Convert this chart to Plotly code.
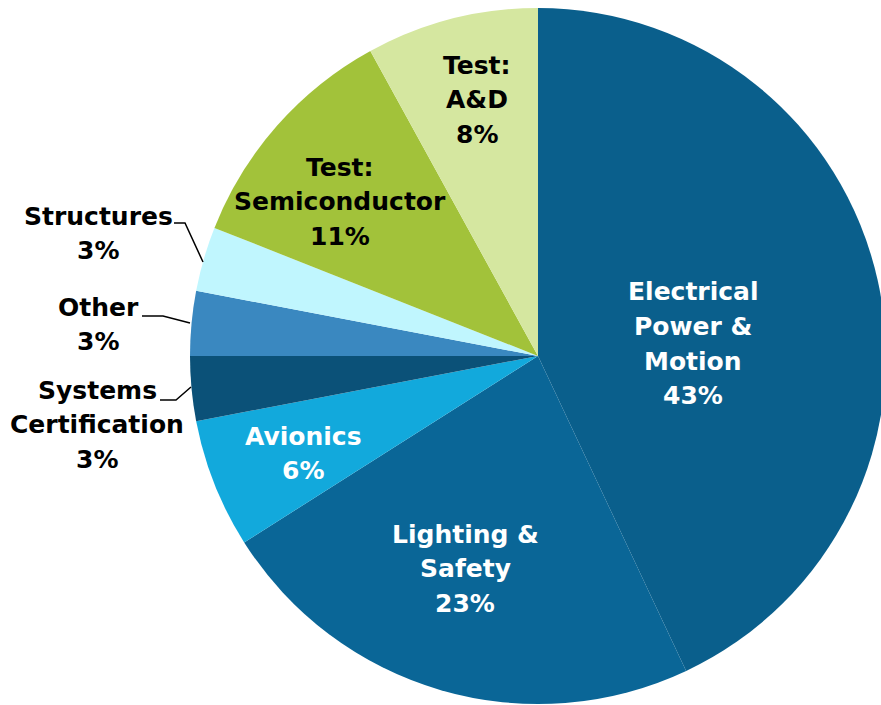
import plotly.graph_objects as go

# slices, clockwise from 12 o'clock
segment_names = [
    "Electrical Power & Motion",
    "Lighting & Safety",
    "Avionics",
    "Systems Certification",
    "Other",
    "Structures",
    "Test: Semiconductor",
    "Test: A&D",
]
segment_share = [43, 23, 6, 3, 3, 3, 11, 8]
segment_colors = [
    "#0a5f8c",
    "#0a6697",
    "#12a9dc",
    "#0b5178",
    "#3a88c0",
    "#c0f6fe",
    "#a2c23a",
    "#d5e7a0",
]
# label text lines per slice
label_lines = [
    ["Electrical", "Power &", "Motion"],
    ["Lighting &", "Safety"],
    ["Avionics"],
    ["Systems", "Certification"],
    ["Other"],
    ["Structures"],
    ["Test:", "Semiconductor"],
    ["Test:", "A&D"],
]
label_font_color = ["white", "white", "white", "black", "black", "black", "black", "black"]
# (x center, first line y) in page pixels
label_anchor = [
    (693, 292), (465, 534), (303, 436), (97, 390),
    (98, 307), (98, 216), (340, 167), (477, 65),
]
# leader lines for the small outside labels, page pixels
leader_lines = [
    [(160, 400), (176, 400), (191, 387)],
    [(142, 316), (163, 316), (190, 323)],
    [(174, 223), (185, 223), (203, 262)],
]

# the figure is a little wider than the 881px window so the pie can run off the right edge
W, H = 890, 705
LINE_STEP = 34.5


def px(x):
    return x / W


def py(y):
    return 1 - y / H


cx, cy, r = 538, 356, 348

fig = go.Figure(
    go.Pie(
        labels=segment_names,
        values=segment_share,
        sort=False,
        direction="clockwise",
        rotation=0,
        marker=dict(colors=segment_colors, line=dict(width=0)),
        textinfo="none",
        hoverinfo="label+percent",
        domain=dict(x=[px(cx - r), px(cx + r)], y=[py(cy + r), py(cy - r)]),
        showlegend=False,
    )
)

annotations = []
for lines, share, (ax, ay), fc in zip(label_lines, segment_share, label_anchor, label_font_color):
    for i, txt in enumerate(lines + [f"{share}%"]):
        annotations.append(
            dict(
                x=px(ax),
                y=py(ay + i * LINE_STEP),
                xref="paper",
                yref="paper",
                text=f"<b>{txt}</b>",
                showarrow=False,
                xanchor="center",
                yanchor="middle",
                font=dict(family="DejaVu Sans", size=25, color=fc),
            )
        )

shapes = []
for pts in leader_lines:
    path = "M " + " L ".join(f"{px(x)},{py(y)}" for x, y in pts)
    shapes.append(
        dict(type="path", xref="paper", yref="paper", path=path,
             line=dict(color="black", width=1.5))
    )

fig.update_layout(
    width=W,
    height=H,
    margin=dict(l=0, r=0, t=0, b=0),
    paper_bgcolor="white",
    plot_bgcolor="white",
    annotations=annotations,
    shapes=shapes,
)

fig.write_html(
    "out.html",
    config={"displayModeBar": False},
    post_script="document.body.style.margin='0';document.body.style.overflow='hidden';",
)
